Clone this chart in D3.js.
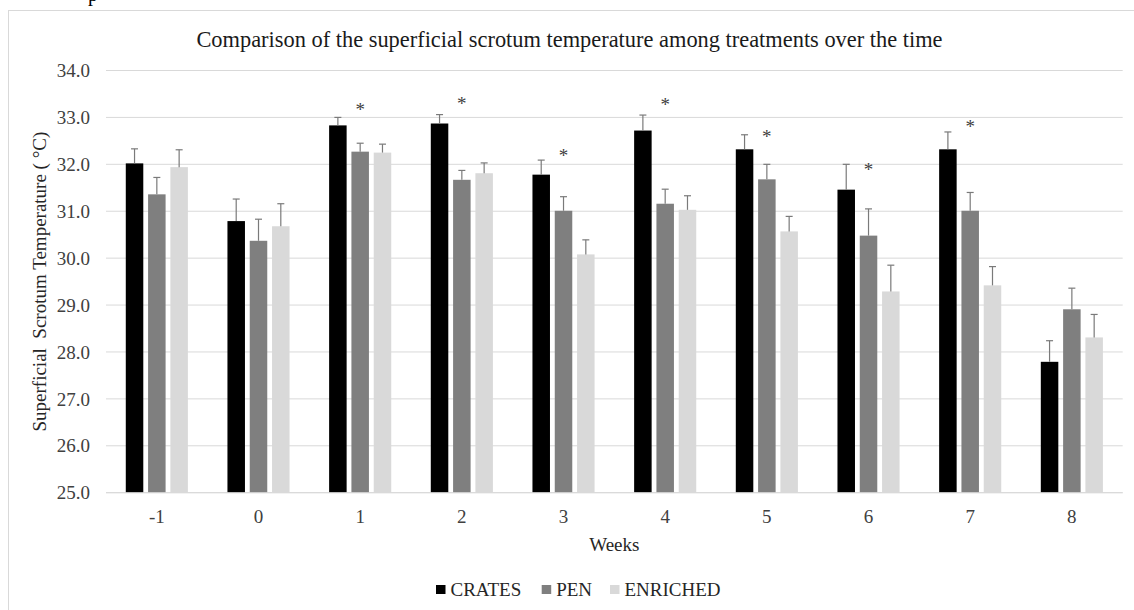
<!DOCTYPE html>
<html>
<head>
<meta charset="utf-8">
<script src="https://cdn.jsdelivr.net/npm/d3@7/dist/d3.min.js"></script>
<style>
  html, body { margin: 0; padding: 0; background: #fff; }
  svg { display: block; font-family: "Liberation Serif", "Times New Roman", serif; }
</style>
</head>
<body>
<svg id="chart" width="1134" height="610"></svg>
<script>
// Weeks on the x axis
const weeks = ["-1", "0", "1", "2", "3", "4", "5", "6", "7", "8"];
// Treatment groups
const treatments = ["CRATES", "PEN", "ENRICHED"];
// Mean superficial scrotum temperature (°C) per week
const crates   = [32.02, 30.79, 32.83, 32.87, 31.78, 32.72, 32.32, 31.46, 32.32, 27.79];
const pen      = [31.36, 30.37, 32.27, 31.67, 31.01, 31.16, 31.68, 30.48, 31.01, 28.91];
const enriched = [31.94, 30.68, 32.25, 31.81, 30.08, 31.03, 30.57, 29.29, 29.42, 28.31];
// Upper error-bar values
const cratesErr   = [32.33, 31.26, 33.00, 33.06, 32.09, 33.05, 32.63, 32.00, 32.69, 28.24];
const penErr      = [31.72, 30.83, 32.45, 31.87, 31.31, 31.47, 32.00, 31.05, 31.40, 29.36];
const enrichedErr = [32.31, 31.16, 32.43, 32.03, 30.39, 31.33, 30.89, 29.85, 29.82, 28.80];
// Significance marks: height of the asterisk (°C), null where absent
const starLevel = [null, null, 33.25, 33.39, 32.27, 33.35, 32.68, 31.97, 32.89, null];
// Y axis ticks
const yTicks = [25, 26, 27, 28, 29, 30, 31, 32, 33, 34];

const colors = { CRATES: "#000000", PEN: "#7f7f7f", ENRICHED: "#d9d9d9" };
const seriesValues = { CRATES: crates, PEN: pen, ENRICHED: enriched };
const seriesErr = { CRATES: cratesErr, PEN: penErr, ENRICHED: enrichedErr };

const svg = d3.select("#chart");
const plot = { left: 106, right: 1122.7, top: 70.5, bottom: 492.7 };
const labelSize = 19;

// Chart area frame
svg.append("rect")
  .attr("x", 8.5).attr("y", 10.5)
  .attr("width", 1140).attr("height", 620)
  .attr("fill", "#fff").attr("stroke", "#d9d9d9").attr("stroke-width", 1);

// Fragment of text above the frame
svg.append("text")
  .attr("x", 88).attr("y", 1)
  .attr("font-size", 20).attr("fill", "#000")
  .text("p");

const x0 = d3.scaleBand().domain(weeks).range([plot.left, plot.right]).paddingInner(0).paddingOuter(0);
const x1 = d3.scaleBand().domain(treatments).range([0, x0.bandwidth()]).paddingInner(0.215).paddingOuter(0.887);
const y = d3.scaleLinear().domain([25, 34]).range([plot.bottom, plot.top]);

// Gridlines
svg.append("g")
  .selectAll("line")
  .data(yTicks)
  .join("line")
  .attr("x1", plot.left).attr("x2", plot.right)
  .attr("y1", d => y(d)).attr("y2", d => y(d))
  .attr("stroke", "#d9d9d9").attr("stroke-width", 1);

// Y tick labels
svg.append("g")
  .selectAll("text")
  .data(yTicks)
  .join("text")
  .attr("x", 90).attr("y", d => y(d))
  .attr("dy", "0.35em")
  .attr("text-anchor", "end")
  .attr("font-size", labelSize).attr("fill", "#404040")
  .text(d => d.toFixed(1));

// Bars
const rows = weeks.map((w, i) => treatments.map(t => ({
  week: w, treatment: t, value: seriesValues[t][i], err: seriesErr[t][i]
})));

const groups = svg.append("g")
  .selectAll("g")
  .data(rows)
  .join("g")
  .attr("transform", (d, i) => `translate(${x0(weeks[i])},0)`);

groups.selectAll("rect")
  .data(d => d)
  .join("rect")
  .attr("x", d => x1(d.treatment))
  .attr("width", x1.bandwidth())
  .attr("y", d => y(d.value))
  .attr("height", d => y(25) - y(d.value))
  .attr("fill", d => colors[d.treatment]);

// Error bars
const errG = groups.selectAll("g.err")
  .data(d => d)
  .join("g")
  .attr("class", "err")
  .attr("stroke", "#7a7a7a").attr("stroke-width", 1.2);
errG.append("line")
  .attr("x1", d => x1(d.treatment) + x1.bandwidth() / 2)
  .attr("x2", d => x1(d.treatment) + x1.bandwidth() / 2)
  .attr("y1", d => y(d.value)).attr("y2", d => y(d.err));
errG.append("line")
  .attr("x1", d => x1(d.treatment) + x1.bandwidth() / 2 - 3.5)
  .attr("x2", d => x1(d.treatment) + x1.bandwidth() / 2 + 3.5)
  .attr("y1", d => y(d.err)).attr("y2", d => y(d.err));

// Asterisks over the PEN bar
svg.append("g")
  .selectAll("text")
  .data(weeks.map((w, i) => ({ week: w, level: starLevel[i] })).filter(d => d.level !== null))
  .join("text")
  .attr("x", d => x0(d.week) + x1("PEN") + x1.bandwidth() / 2)
  .attr("y", d => y(d.level))
  .attr("dy", "0.55em")
  .attr("text-anchor", "middle")
  .attr("font-size", labelSize).attr("fill", "#404040")
  .text("*");

// Baseline
svg.append("line")
  .attr("x1", plot.left).attr("x2", plot.right)
  .attr("y1", y(25)).attr("y2", y(25))
  .attr("stroke", "#d9d9d9").attr("stroke-width", 1);

// X tick labels
svg.append("g")
  .selectAll("text")
  .data(weeks)
  .join("text")
  .attr("x", d => x0(d) + x0.bandwidth() / 2)
  .attr("y", 523)
  .attr("text-anchor", "middle")
  .attr("font-size", labelSize).attr("fill", "#404040")
  .text(d => d);

// Axis titles
svg.append("text")
  .attr("x", (plot.left + plot.right) / 2).attr("y", 551)
  .attr("text-anchor", "middle")
  .attr("font-size", labelSize).attr("fill", "#262626")
  .text("Weeks");

svg.append("text")
  .attr("transform", `translate(46,${(plot.top + plot.bottom) / 2}) rotate(-90)`)
  .attr("text-anchor", "middle")
  .attr("font-size", labelSize).attr("fill", "#262626")
  .style("white-space", "pre")
  .text("Superficial  Scrotum Temperature ( °C)");

// Title
svg.append("text")
  .attr("x", 569.5).attr("y", 47)
  .attr("text-anchor", "middle")
  .attr("font-size", 22.4).attr("fill", "#1a1a1a")
  .text("Comparison of the superficial scrotum temperature among treatments over the time");

// Legend
const legendX = [436, 541.7, 610];
const legend = svg.append("g")
  .selectAll("g")
  .data(treatments)
  .join("g")
  .attr("transform", (d, i) => `translate(${legendX[i]},585)`);
legend.append("rect")
  .attr("width", 9.5).attr("height", 9)
  .attr("fill", d => colors[d]);
legend.append("text")
  .attr("x", 14.5).attr("y", 4.5).attr("dy", "0.35em")
  .attr("font-size", labelSize).attr("fill", "#262626")
  .text(d => d);
</script>
</body>
</html>
